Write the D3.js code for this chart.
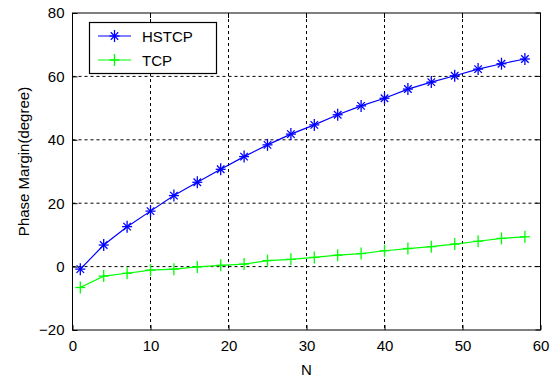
<!DOCTYPE html>
<html>
<head>
<meta charset="utf-8">
<script src="https://cdn.jsdelivr.net/npm/d3@7"></script>
<style>
  body { margin: 0; background: #fff; }
  text { font-family: "Liberation Sans", Arial, sans-serif; fill: #000; }
</style>
</head>
<body>
<svg id="chart" width="560" height="382"></svg>
<script>
// data
const nValues = [1, 4, 7, 10, 13, 16, 19, 22, 25, 28, 31, 34, 37, 40, 43, 46, 49, 52, 55, 58];
const hstcp = [-0.8, 6.8, 12.6, 17.5, 22.4, 26.6, 30.7, 34.7, 38.4, 41.8, 44.7, 47.9, 50.7, 53.1, 56.0, 58.2, 60.2, 62.3, 64.0, 65.5];
const tcp = [-6.6, -3.0, -2.1, -1.1, -0.8, -0.1, 0.4, 0.8, 1.9, 2.3, 2.9, 3.6, 4.1, 5.0, 5.7, 6.3, 7.1, 8.0, 8.9, 9.4];
const xTicks = [0, 10, 20, 30, 40, 50, 60];
const yTicks = [-20, 0, 20, 40, 60, 80];

const seriesList = [
  { name: "HSTCP", values: hstcp, color: "#0000ff", marker: "star" },
  { name: "TCP", values: tcp, color: "#00ff00", marker: "plus" }
];

const plotL = 72.5, plotR = 540.5, plotT = 13, plotB = 330;
const svg = d3.select("#chart");

const x = d3.scaleLinear().domain([0, 60]).range([plotL, plotR]);
const y = d3.scaleLinear().domain([-20, 80]).range([plotB, plotT]);

// grid lines (dashed)
svg.append("g").selectAll("line")
  .data(xTicks.slice(1, -1))
  .enter().append("line")
  .attr("x1", d => x(d)).attr("x2", d => x(d))
  .attr("y1", plotT).attr("y2", plotB)
  .attr("stroke", "#000").attr("stroke-width", 1)
  .attr("stroke-dasharray", "3,3");

svg.append("g").selectAll("line")
  .data(yTicks.slice(1, -1))
  .enter().append("line")
  .attr("x1", plotL).attr("x2", plotR)
  .attr("y1", d => y(d)).attr("y2", d => y(d))
  .attr("stroke", "#000").attr("stroke-width", 1)
  .attr("stroke-dasharray", "3,3");

// axes with inward ticks
const xAxis = d3.axisBottom(x).tickValues(xTicks).tickSizeInner(-5).tickSizeOuter(0).tickPadding(10);
const yAxis = d3.axisLeft(y).tickValues(yTicks).tickSizeInner(-5).tickSizeOuter(0).tickPadding(8);

const gx = svg.append("g").attr("transform", `translate(0,${plotB})`).call(xAxis);
const gy = svg.append("g").attr("transform", `translate(${plotL},0)`).call(yAxis);
[gx, gy].forEach(g => {
  g.selectAll("text").style("font-size", "15px").attr("fill", "#000");
  g.selectAll("line").attr("stroke", "#000");
  g.select(".domain").remove();
});
// top/right ticks
svg.append("g").selectAll("line")
  .data(xTicks)
  .enter().append("line")
  .attr("x1", d => x(d)).attr("x2", d => x(d))
  .attr("y1", plotT).attr("y2", plotT + 5)
  .attr("stroke", "#000");
svg.append("g").selectAll("line")
  .data(yTicks)
  .enter().append("line")
  .attr("x1", plotR).attr("x2", plotR - 5)
  .attr("y1", d => y(d)).attr("y2", d => y(d))
  .attr("stroke", "#000");

// frame
svg.append("rect")
  .attr("x", plotL).attr("y", plotT)
  .attr("width", plotR - plotL).attr("height", plotB - plotT)
  .attr("fill", "none").attr("stroke", "#000").attr("stroke-width", 1);

// markers
function drawMarker(g, type, cx, cy, color) {
  const r = 5;
  const segs = [[cx - r, cy, cx + r, cy], [cx, cy - r - 1, cx, cy + r + 1]];
  if (type === "star") {
    const d = r * 0.75;
    segs.push([cx - d, cy - d, cx + d, cy + d], [cx - d, cy + d, cx + d, cy - d]);
  }
  segs.forEach(s => {
    g.append("line")
      .attr("x1", s[0]).attr("y1", s[1]).attr("x2", s[2]).attr("y2", s[3])
      .attr("stroke", color).attr("stroke-width", 1.3);
  });
}

const line = d3.line().x((d, i) => x(nValues[i])).y(d => y(d));

seriesList.forEach(s => {
  svg.append("path")
    .attr("d", line(s.values))
    .attr("fill", "none")
    .attr("stroke", s.color)
    .attr("stroke-width", 1.2);
  const mg = svg.append("g");
  s.values.forEach((v, i) => drawMarker(mg, s.marker, x(nValues[i]), y(v), s.color));
});

// legend
const legend = svg.append("g");
legend.append("rect")
  .attr("x", 89.5).attr("y", 22.5).attr("width", 127).attr("height", 51)
  .attr("fill", "#fff").attr("stroke", "#000").attr("stroke-width", 1.2);
seriesList.forEach((s, i) => {
  const ly = 36 + i * 24;
  legend.append("line")
    .attr("x1", 98).attr("x2", 131).attr("y1", ly).attr("y2", ly)
    .attr("stroke", s.color).attr("stroke-width", 1.2);
  drawMarker(legend, s.marker, 114.5, ly, s.color);
  legend.append("text")
    .attr("x", 142).attr("y", ly + 5.5)
    .style("font-size", "15px")
    .text(s.name);
});

// axis labels
svg.append("text")
  .attr("x", (plotL + plotR) / 2).attr("y", 375)
  .attr("text-anchor", "middle")
  .style("font-size", "15px")
  .text("N");

svg.append("text")
  .attr("transform", `translate(29,${(plotT + plotB) / 2 - 10}) rotate(-90)`)
  .attr("text-anchor", "middle")
  .style("font-size", "15px")
  .text("Phase Margin(degree)");
</script>
</body>
</html>
